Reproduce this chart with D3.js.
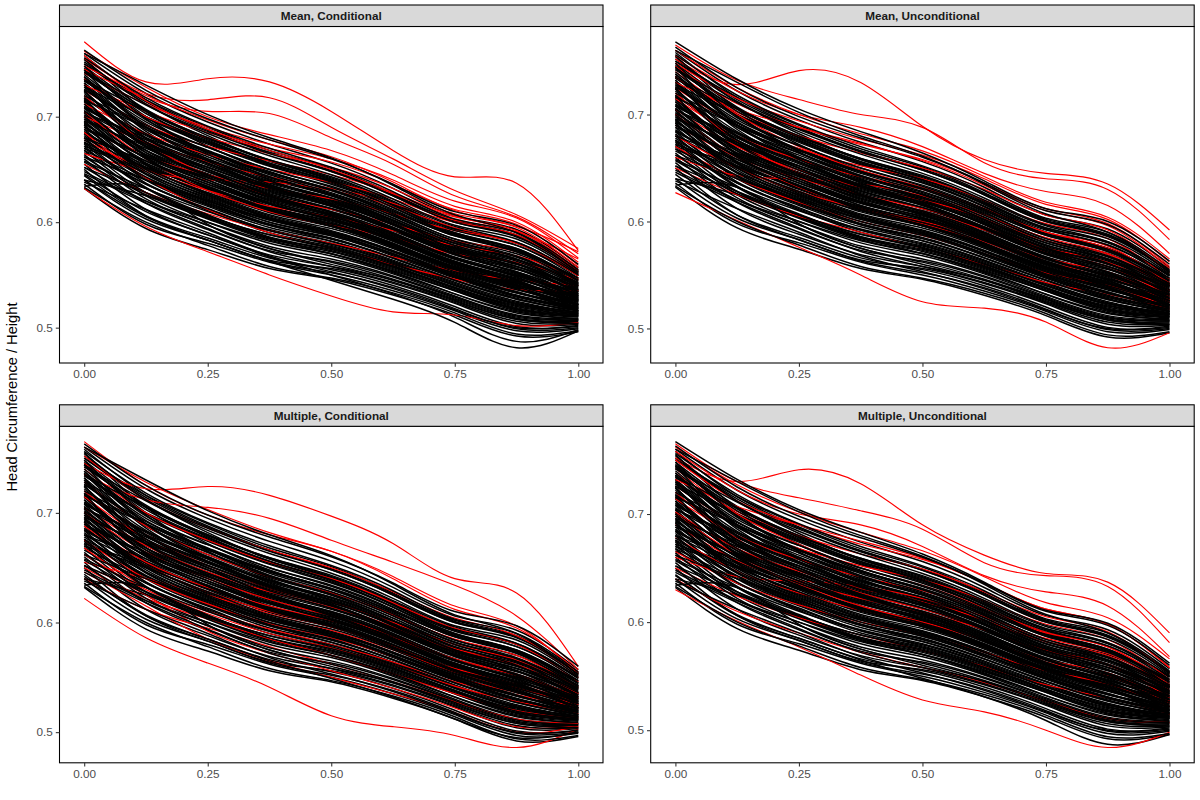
<!DOCTYPE html>
<html><head><meta charset="utf-8">
<script src="https://cdn.jsdelivr.net/npm/d3@7"></script>
<style>body{margin:0;background:#fff} svg{display:block;font-family:"Liberation Sans",Arial,sans-serif}</style>
</head><body><svg id="c" width="1200" height="800"></svg>
<script>
// ---------- data ----------
const xGrid = [0, 0.125, 0.25, 0.375, 0.5, 0.625, 0.75, 0.875, 1];
const xTicks = [0, 0.25, 0.5, 0.75, 1];
const yTicks = [0.5, 0.6, 0.7];
const panelTitles = ["Mean, Conditional", "Mean, Unconditional", "Multiple, Conditional", "Multiple, Unconditional"];
const yTitle = "Head Circumference / Height";

// observed curves (black), common to all panels
const blackShared = [
[0.632,0.594,0.574,0.556,0.546,0.531,0.512,0.492,0.496],
[0.633,0.600,0.578,0.558,0.547,0.533,0.514,0.494,0.497],
[0.636,0.598,0.580,0.562,0.550,0.535,0.516,0.497,0.499],
[0.640,0.603,0.583,0.563,0.552,0.538,0.518,0.499,0.500],
[0.644,0.606,0.585,0.566,0.555,0.540,0.520,0.501,0.501],
[0.638,0.612,0.590,0.568,0.553,0.537,0.517,0.500,0.502],
[0.650,0.606,0.583,0.564,0.556,0.542,0.523,0.504,0.503],
[0.646,0.618,0.594,0.572,0.558,0.543,0.524,0.506,0.504],
[0.655,0.612,0.588,0.569,0.558,0.545,0.526,0.508,0.505],
[0.652,0.620,0.597,0.575,0.562,0.546,0.527,0.509,0.506],
[0.660,0.618,0.593,0.573,0.563,0.548,0.528,0.510,0.507],
[0.664,0.622,0.597,0.577,0.565,0.549,0.529,0.511,0.507],
[0.668,0.625,0.600,0.580,0.568,0.551,0.530,0.512,0.508],
[0.657,0.626,0.603,0.583,0.570,0.553,0.532,0.514,0.509],
[0.672,0.628,0.604,0.584,0.572,0.555,0.535,0.516,0.510],
[0.676,0.633,0.607,0.586,0.574,0.557,0.537,0.518,0.511],
[0.670,0.636,0.611,0.590,0.577,0.559,0.538,0.520,0.512],
[0.680,0.637,0.613,0.592,0.579,0.561,0.540,0.522,0.513],
[0.684,0.640,0.615,0.595,0.582,0.564,0.543,0.525,0.514],
[0.678,0.643,0.619,0.598,0.585,0.566,0.545,0.527,0.516],
[0.688,0.645,0.621,0.600,0.587,0.568,0.547,0.529,0.517],
[0.692,0.648,0.623,0.602,0.589,0.570,0.549,0.531,0.518],
[0.686,0.651,0.627,0.606,0.592,0.573,0.551,0.533,0.519],
[0.696,0.652,0.628,0.607,0.594,0.575,0.553,0.536,0.521],
[0.700,0.655,0.630,0.609,0.596,0.577,0.555,0.538,0.522],
[0.694,0.658,0.634,0.613,0.599,0.580,0.557,0.540,0.523],
[0.704,0.660,0.636,0.615,0.601,0.582,0.559,0.542,0.525],
[0.708,0.663,0.638,0.617,0.603,0.584,0.561,0.544,0.526],
[0.702,0.666,0.642,0.621,0.606,0.586,0.563,0.547,0.527],
[0.712,0.668,0.644,0.623,0.608,0.588,0.565,0.549,0.529],
[0.716,0.671,0.646,0.625,0.610,0.590,0.567,0.551,0.530],
[0.710,0.674,0.650,0.629,0.613,0.593,0.569,0.553,0.531],
[0.720,0.676,0.652,0.631,0.616,0.595,0.571,0.556,0.533],
[0.724,0.679,0.654,0.633,0.618,0.597,0.573,0.558,0.534],
[0.718,0.682,0.658,0.637,0.621,0.600,0.576,0.561,0.536],
[0.728,0.684,0.660,0.639,0.623,0.602,0.578,0.563,0.537],
[0.732,0.688,0.662,0.641,0.625,0.604,0.580,0.565,0.539],
[0.726,0.690,0.666,0.645,0.628,0.606,0.582,0.567,0.540],
[0.736,0.693,0.668,0.647,0.631,0.609,0.584,0.570,0.542],
[0.740,0.697,0.671,0.650,0.633,0.611,0.587,0.573,0.544],
[0.734,0.700,0.675,0.654,0.637,0.614,0.589,0.575,0.545],
[0.744,0.703,0.677,0.656,0.639,0.616,0.592,0.578,0.547],
[0.748,0.707,0.680,0.659,0.642,0.619,0.594,0.581,0.549],
[0.742,0.711,0.684,0.663,0.645,0.622,0.597,0.584,0.551],
[0.752,0.714,0.687,0.666,0.648,0.625,0.600,0.587,0.553],
[0.756,0.718,0.691,0.670,0.652,0.629,0.603,0.590,0.555],
[0.760,0.722,0.695,0.674,0.656,0.632,0.606,0.593,0.557],
[0.763,0.725,0.698,0.678,0.660,0.636,0.610,0.597,0.560],
[0.745,0.700,0.665,0.640,0.620,0.598,0.575,0.556,0.530],
[0.730,0.680,0.650,0.625,0.607,0.585,0.562,0.545,0.520],
[0.755,0.705,0.672,0.648,0.630,0.607,0.582,0.565,0.535],
[0.690,0.662,0.642,0.624,0.610,0.590,0.566,0.550,0.532],
[0.670,0.650,0.628,0.610,0.596,0.577,0.556,0.540,0.526],
[0.705,0.674,0.652,0.633,0.618,0.598,0.575,0.560,0.540],
[0.715,0.666,0.638,0.615,0.598,0.578,0.556,0.538,0.515],
[0.725,0.672,0.645,0.624,0.606,0.584,0.562,0.545,0.522],
[0.698,0.670,0.648,0.628,0.613,0.592,0.570,0.555,0.536],
[0.738,0.690,0.660,0.636,0.617,0.594,0.570,0.552,0.526],
[0.680,0.652,0.632,0.614,0.600,0.580,0.558,0.542,0.528],
[0.662,0.640,0.620,0.602,0.588,0.570,0.549,0.533,0.522],
[0.750,0.712,0.682,0.658,0.640,0.616,0.590,0.574,0.542],
[0.720,0.690,0.664,0.642,0.626,0.604,0.580,0.564,0.540],
[0.708,0.678,0.655,0.634,0.619,0.598,0.574,0.558,0.535],
[0.695,0.650,0.625,0.604,0.590,0.572,0.550,0.534,0.516],
[0.685,0.656,0.634,0.613,0.598,0.579,0.557,0.541,0.525],
[0.735,0.705,0.678,0.656,0.638,0.614,0.588,0.572,0.541],
[0.675,0.642,0.618,0.598,0.584,0.566,0.545,0.528,0.514],
[0.760,0.730,0.702,0.680,0.661,0.635,0.607,0.590,0.552],
[0.640,0.625,0.605,0.585,0.570,0.552,0.532,0.515,0.508],
[0.634,0.632,0.598,0.575,0.560,0.545,0.525,0.508,0.504],
[0.662,0.628,0.604,0.585,0.573,0.556,0.536,0.517,0.511],
[0.674,0.632,0.606,0.588,0.576,0.558,0.538,0.519,0.512],
[0.682,0.642,0.617,0.597,0.584,0.566,0.545,0.527,0.516],
[0.690,0.650,0.624,0.604,0.591,0.572,0.551,0.533,0.520],
[0.698,0.656,0.632,0.611,0.598,0.579,0.557,0.540,0.524],
[0.706,0.664,0.640,0.619,0.605,0.586,0.563,0.546,0.528],
[0.714,0.672,0.648,0.627,0.612,0.592,0.569,0.553,0.532],
[0.722,0.680,0.656,0.635,0.620,0.599,0.575,0.560,0.536],
[0.730,0.688,0.664,0.643,0.627,0.606,0.582,0.567,0.541],
[0.738,0.695,0.671,0.650,0.634,0.612,0.588,0.574,0.545],
[0.746,0.705,0.679,0.658,0.641,0.618,0.594,0.580,0.549],
[0.754,0.712,0.686,0.665,0.648,0.625,0.600,0.586,0.553],
[0.668,0.640,0.616,0.597,0.582,0.563,0.542,0.524,0.514],
[0.676,0.646,0.622,0.603,0.589,0.570,0.548,0.530,0.518],
[0.684,0.654,0.631,0.611,0.596,0.576,0.554,0.537,0.522],
[0.693,0.661,0.638,0.618,0.603,0.583,0.560,0.543,0.526],
[0.701,0.668,0.645,0.625,0.609,0.589,0.566,0.549,0.530],
[0.709,0.676,0.652,0.632,0.616,0.595,0.572,0.556,0.534],
[0.717,0.683,0.659,0.638,0.622,0.601,0.577,0.561,0.538],
[0.726,0.692,0.667,0.646,0.630,0.608,0.584,0.568,0.542],
[0.734,0.699,0.674,0.653,0.636,0.614,0.590,0.575,0.546],
[0.742,0.706,0.680,0.659,0.643,0.620,0.596,0.581,0.550],
[0.750,0.716,0.690,0.668,0.651,0.627,0.602,0.588,0.554],
[0.700,0.660,0.633,0.612,0.597,0.578,0.556,0.539,0.519],
[0.712,0.668,0.640,0.618,0.602,0.582,0.560,0.543,0.521],
[0.724,0.676,0.648,0.626,0.609,0.588,0.565,0.548,0.524],
[0.736,0.686,0.656,0.633,0.615,0.593,0.570,0.552,0.527],
[0.748,0.698,0.667,0.643,0.625,0.602,0.578,0.561,0.532],
[0.688,0.664,0.642,0.622,0.607,0.587,0.565,0.550,0.534],
[0.680,0.658,0.636,0.617,0.602,0.582,0.561,0.546,0.531],
[0.672,0.652,0.631,0.612,0.597,0.578,0.557,0.542,0.529],
[0.696,0.672,0.650,0.630,0.615,0.595,0.573,0.558,0.539],
[0.704,0.680,0.658,0.638,0.623,0.602,0.580,0.565,0.543],
[0.716,0.690,0.667,0.647,0.631,0.610,0.587,0.572,0.547],
[0.728,0.700,0.676,0.655,0.639,0.617,0.593,0.578,0.550],
[0.658,0.632,0.610,0.592,0.578,0.560,0.540,0.523,0.515],
[0.666,0.636,0.612,0.593,0.580,0.562,0.541,0.523,0.513],
[0.692,0.646,0.620,0.600,0.587,0.569,0.548,0.530,0.516],
[0.704,0.654,0.626,0.605,0.591,0.573,0.552,0.534,0.518],
[0.718,0.662,0.633,0.611,0.596,0.577,0.555,0.537,0.519],
[0.732,0.674,0.643,0.620,0.604,0.584,0.561,0.543,0.522],
[0.744,0.690,0.658,0.634,0.616,0.594,0.570,0.552,0.528],
[0.758,0.716,0.688,0.666,0.649,0.626,0.601,0.587,0.554],
[0.652,0.628,0.606,0.588,0.575,0.558,0.538,0.521,0.513],
[0.648,0.620,0.600,0.582,0.570,0.554,0.535,0.518,0.511]
];

// extra black curves per panel
const blackExtraMC = [
[0.640,0.605,0.583,0.563,0.545,0.527,0.505,0.481,0.497],
[0.645,0.610,0.588,0.567,0.550,0.532,0.510,0.487,0.498]
];
const blackExtraMU = [
[0.768,0.733,0.705,0.684,0.664,0.638,0.612,0.600,0.563]
];
const blackExtraXC = [
[0.642,0.607,0.585,0.565,0.549,0.532,0.512,0.495,0.500]
];
const blackExtraXU = [
[0.767,0.732,0.704,0.683,0.663,0.637,0.611,0.599,0.562],
[0.643,0.607,0.585,0.565,0.548,0.531,0.509,0.487,0.496]
];

// imputed curves (red) per panel
const redMC = [
[0.771,0.733,0.736,0.733,0.705,0.668,0.643,0.637,0.573],
[0.755,0.722,0.716,0.718,0.690,0.660,0.630,0.607,0.575],
[0.745,0.718,0.705,0.703,0.680,0.655,0.625,0.605,0.570],
[0.762,0.728,0.700,0.683,0.668,0.645,0.620,0.604,0.566],
[0.741,0.712,0.690,0.674,0.660,0.640,0.615,0.600,0.562],
[0.758,0.715,0.688,0.670,0.657,0.636,0.612,0.598,0.559],
[0.736,0.700,0.680,0.665,0.652,0.632,0.608,0.595,0.557],
[0.725,0.692,0.672,0.658,0.645,0.627,0.605,0.592,0.555],
[0.712,0.684,0.664,0.650,0.638,0.622,0.602,0.590,0.553],
[0.700,0.676,0.657,0.643,0.632,0.618,0.600,0.588,0.551],
[0.665,0.648,0.640,0.638,0.630,0.615,0.595,0.580,0.552],
[0.690,0.662,0.645,0.632,0.622,0.608,0.592,0.580,0.549],
[0.678,0.650,0.630,0.615,0.605,0.592,0.578,0.568,0.547],
[0.720,0.675,0.645,0.625,0.612,0.598,0.582,0.572,0.546],
[0.705,0.660,0.630,0.610,0.597,0.585,0.570,0.562,0.545],
[0.655,0.628,0.608,0.592,0.580,0.567,0.554,0.545,0.540],
[0.685,0.642,0.612,0.590,0.575,0.560,0.546,0.536,0.535],
[0.632,0.596,0.572,0.550,0.530,0.515,0.512,0.502,0.505],
[0.730,0.705,0.685,0.668,0.650,0.628,0.606,0.591,0.565],
[0.748,0.720,0.697,0.678,0.662,0.638,0.611,0.596,0.572]
];
const redMU = [
[0.752,0.728,0.741,0.730,0.689,0.658,0.645,0.635,0.592],
[0.765,0.732,0.714,0.700,0.688,0.655,0.640,0.630,0.583],
[0.755,0.722,0.700,0.688,0.670,0.645,0.628,0.615,0.570],
[0.627,0.601,0.576,0.550,0.525,0.519,0.506,0.482,0.496],
[0.745,0.710,0.688,0.672,0.658,0.636,0.612,0.598,0.558],
[0.735,0.702,0.680,0.664,0.650,0.630,0.606,0.592,0.552],
[0.725,0.690,0.668,0.652,0.640,0.620,0.598,0.584,0.546],
[0.715,0.680,0.658,0.642,0.630,0.612,0.590,0.577,0.541],
[0.705,0.670,0.648,0.632,0.620,0.603,0.582,0.569,0.536],
[0.690,0.660,0.640,0.625,0.612,0.595,0.575,0.562,0.532],
[0.660,0.643,0.640,0.635,0.624,0.606,0.585,0.570,0.540],
[0.680,0.650,0.628,0.612,0.600,0.584,0.565,0.553,0.527],
[0.670,0.640,0.618,0.600,0.587,0.570,0.552,0.540,0.520],
[0.740,0.700,0.670,0.648,0.632,0.612,0.590,0.575,0.543],
[0.720,0.675,0.645,0.625,0.610,0.592,0.572,0.558,0.530],
[0.700,0.660,0.632,0.612,0.598,0.581,0.562,0.549,0.524],
[0.650,0.625,0.605,0.590,0.575,0.560,0.543,0.532,0.518],
[0.760,0.725,0.700,0.682,0.666,0.642,0.618,0.604,0.565],
[0.748,0.715,0.694,0.677,0.662,0.640,0.616,0.602,0.562],
[0.730,0.705,0.688,0.673,0.657,0.634,0.610,0.596,0.556]
];
const redXC = [
[0.745,0.722,0.724,0.716,0.697,0.672,0.640,0.627,0.560],
[0.735,0.712,0.705,0.695,0.675,0.655,0.634,0.606,0.557],
[0.765,0.725,0.698,0.680,0.665,0.640,0.612,0.595,0.555],
[0.622,0.586,0.563,0.541,0.515,0.505,0.497,0.486,0.503],
[0.752,0.712,0.686,0.666,0.650,0.628,0.604,0.588,0.550],
[0.740,0.700,0.675,0.655,0.640,0.618,0.595,0.580,0.546],
[0.728,0.688,0.662,0.642,0.627,0.607,0.585,0.570,0.541],
[0.715,0.676,0.650,0.630,0.615,0.596,0.575,0.561,0.536],
[0.700,0.664,0.640,0.621,0.606,0.588,0.567,0.553,0.531],
[0.688,0.652,0.628,0.610,0.596,0.578,0.558,0.544,0.526],
[0.675,0.640,0.617,0.599,0.586,0.569,0.550,0.536,0.521],
[0.662,0.630,0.608,0.590,0.577,0.561,0.542,0.528,0.517],
[0.650,0.622,0.603,0.585,0.570,0.553,0.535,0.520,0.513],
[0.655,0.640,0.625,0.608,0.593,0.575,0.555,0.540,0.525],
[0.640,0.612,0.595,0.578,0.562,0.546,0.528,0.512,0.508],
[0.720,0.680,0.652,0.632,0.618,0.600,0.580,0.566,0.540],
[0.705,0.670,0.646,0.628,0.614,0.596,0.576,0.562,0.535],
[0.760,0.728,0.703,0.682,0.665,0.642,0.615,0.597,0.553],
[0.690,0.655,0.632,0.615,0.602,0.586,0.566,0.552,0.532],
[0.668,0.632,0.610,0.594,0.580,0.564,0.546,0.534,0.523],
[0.652,0.625,0.592,0.572,0.556,0.540,0.522,0.505,0.506],
[0.646,0.615,0.585,0.565,0.550,0.535,0.518,0.500,0.505]
];
const redXU = [
[0.752,0.730,0.741,0.728,0.690,0.662,0.645,0.637,0.590],
[0.765,0.730,0.715,0.703,0.686,0.655,0.643,0.633,0.581],
[0.758,0.722,0.700,0.690,0.670,0.643,0.628,0.615,0.568],
[0.630,0.601,0.577,0.551,0.528,0.517,0.500,0.484,0.498],
[0.750,0.712,0.690,0.672,0.658,0.636,0.612,0.598,0.558],
[0.738,0.702,0.680,0.663,0.649,0.628,0.605,0.591,0.552],
[0.726,0.690,0.668,0.652,0.639,0.620,0.598,0.584,0.547],
[0.714,0.680,0.658,0.642,0.629,0.611,0.590,0.577,0.542],
[0.702,0.668,0.647,0.631,0.619,0.602,0.582,0.569,0.537],
[0.690,0.657,0.637,0.622,0.609,0.593,0.574,0.561,0.532],
[0.660,0.642,0.638,0.633,0.622,0.605,0.585,0.571,0.540],
[0.678,0.647,0.627,0.611,0.599,0.583,0.565,0.553,0.527],
[0.665,0.636,0.616,0.600,0.588,0.572,0.555,0.543,0.522],
[0.742,0.700,0.672,0.650,0.634,0.613,0.591,0.577,0.544],
[0.720,0.677,0.648,0.627,0.612,0.594,0.573,0.560,0.530],
[0.700,0.662,0.635,0.615,0.600,0.583,0.563,0.550,0.525],
[0.650,0.624,0.604,0.588,0.574,0.559,0.542,0.530,0.515],
[0.762,0.727,0.702,0.683,0.666,0.642,0.618,0.604,0.566],
[0.640,0.610,0.590,0.572,0.558,0.544,0.527,0.511,0.507],
[0.732,0.707,0.690,0.675,0.659,0.636,0.612,0.598,0.558]
];

const blackExtras = [blackExtraMC, blackExtraMU, blackExtraXC, blackExtraXU];
const reds = [redMC, redMU, redXC, redXU];

// ---------- layout ----------
const svg = d3.select("#c");
const colX = [59.5, 650.7], rowY = [26.5, 426.3];
const pw = 543.5, ph = 336.5, stripH = 21.5;
const tickLen = 3.7;

svg.append("text")
  .attr("transform", "translate(12,397) rotate(-90)")
  .attr("text-anchor", "middle").attr("dy", "0.35em")
  .style("font-size", "14.67px").attr("fill", "#000").text(yTitle);

panelTitles.forEach((title, i) => {
  const px = colX[i % 2], py = rowY[Math.floor(i / 2)];
  const black = blackShared.concat(blackExtras[i]);
  const red = reds[i];
  const all = black.concat(red).flat();
  const [lo, hi] = d3.extent(all);
  const pad = (hi - lo) * 0.05;
  const x = d3.scaleLinear().domain([-0.05, 1.05]).range([px, px + pw]);
  const y = d3.scaleLinear().domain([lo - pad, hi + pad]).range([py + ph, py]);

  const g = svg.append("g");
  const clipId = "clip" + i;
  g.append("clipPath").attr("id", clipId).append("rect")
    .attr("x", px).attr("y", py).attr("width", pw).attr("height", ph);

  const line = d3.line().x((d, j) => x(xGrid[j])).y(d => y(d)).curve(d3.curveNatural);
  const lines = g.append("g").attr("clip-path", `url(#${clipId})`).attr("fill", "none");

  const blackA = black.filter((d, j) => j % 2 === 0);
  const blackB = black.filter((d, j) => j % 2 === 1);
  lines.selectAll(".ba").data(blackA).join("path").attr("class", "ba")
    .attr("d", line).attr("stroke", "#000").attr("stroke-width", 1.5);
  lines.selectAll(".r").data(red).join("path").attr("class", "r")
    .attr("d", line).attr("stroke", "#ff0000").attr("stroke-width", 1.15);
  lines.selectAll(".bb").data(blackB).join("path").attr("class", "bb")
    .attr("d", line).attr("stroke", "#000").attr("stroke-width", 1.5);

  // panel border
  g.append("rect").attr("x", px).attr("y", py).attr("width", pw).attr("height", ph)
    .attr("fill", "none").attr("stroke", "#000").attr("stroke-width", 1.07);

  // strip
  g.append("rect").attr("x", px).attr("y", py - stripH).attr("width", pw).attr("height", stripH)
    .attr("fill", "#d9d9d9").attr("stroke", "#000").attr("stroke-width", 1.07);
  g.append("text").attr("x", px + pw / 2).attr("y", py - stripH / 2).attr("dy", "0.35em")
    .attr("text-anchor", "middle").style("font-size", "11.73px").style("font-weight", "bold")
    .attr("fill", "#1a1a1a").text(title);

  // axes
  const xa = g.append("g").attr("transform", `translate(0,${py + ph})`)
    .call(d3.axisBottom(x).tickValues(xTicks).tickFormat(d3.format(".2f")).tickSize(tickLen).tickPadding(3));
  const ya = g.append("g").attr("transform", `translate(${px},0)`)
    .call(d3.axisLeft(y).tickValues(yTicks).tickFormat(d3.format(".1f")).tickSize(tickLen).tickPadding(3));
  [xa, ya].forEach(a => {
    a.select(".domain").remove();
    a.selectAll(".tick line").attr("stroke", "#333").attr("stroke-width", 1.07);
    a.selectAll(".tick text").attr("fill", "#4d4d4d").style("font-size", "11.73px")
      .style("font-family", "'Liberation Sans', Arial, sans-serif");
  });
});
</script></body></html>
